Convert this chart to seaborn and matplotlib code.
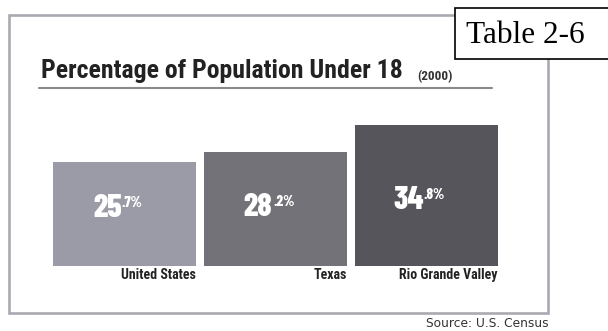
import matplotlib
matplotlib.use("Agg")
import matplotlib.pyplot as plt
import seaborn as sns
from matplotlib.patches import Rectangle
from matplotlib.lines import Line2D

# ---- data ----
categories = ["United States", "Texas", "Rio Grande Valley"]
values = [25.7, 28.2, 34.8]
whole_parts = ["25", "28", "34"]
frac_parts = [".7%", ".2%", ".8%"]
title = "Percentage of Population Under 18"
year_note = "(2000)"
table_label = "Table 2-6"
source = "Source: U.S. Census"

# ---- style ----
bar_colors = ["#9A9BA6", "#727278", "#55555B"]
label_base_offsets = [12.1, 12.35, 14.1]   # baseline of value text (data units)

W, H = 608, 331
sns.set_theme(style="white")
plt.rcParams['font.family'] = ['DejaVu Sans']
fig = plt.figure(figsize=(W / 100, H / 100), dpi=100)
fig.patch.set_facecolor("white")
ax = fig.add_axes([0, 0, 1, 1])

def fx(x):
    return x / W

def fy(y):
    return 1 - y / H

sns.barplot(x=categories, y=values, hue=categories, palette=bar_colors, width=0.947,
            saturation=1, legend=False, ax=ax, linewidth=0, zorder=3)

# pixel mapping: pos 0 centre at x=124.5, 151 px per category; y=0 at 266 px, 4.05 px/unit
ppx, ppy = 151.0, 4.05
ax.set_xlim(-124.5 / ppx, (W - 124.5) / ppx)
ax.set_ylim(-(H - 266) / ppy, 266 / ppy)
ax.axis("off")

cond = ["Roboto Condensed", "DejaVu Sans"]
numfont = ["Barlow Condensed", "Roboto Condensed", "DejaVu Sans"]
for i, (v, w, f) in enumerate(zip(values, whole_parts, frac_parts)):
    jx = i - 3 / ppx
    yb = label_base_offsets[i]
    ax.text(jx, yb, w, ha="right", va="baseline", color="white",
            fontsize=23, fontweight=800, family=numfont, zorder=5)
    ax.text(jx + 0.5 / ppx, yb + 10 / ppy, f, ha="left", va="baseline", color="white",
            fontsize=10.5, fontweight=800, family=numfont, zorder=5)
    ax.text(i + 0.947 / 2, -2 / ppy, categories[i], ha="right", va="top",
            color="#222222", fontsize=10, fontweight="bold", family=cond, zorder=5)

# outer frame
frame = Rectangle((fx(8.5), fy(312.5)), fx(548 - 8.5), (312.5 - 15) / H,
                  transform=fig.transFigure, fill=False, edgecolor="#A9A9B2",
                  linewidth=1.9, zorder=1)
fig.patches.append(frame)

# title + underline
fig.text(fx(41), fy(78), title, ha="left", va="baseline", color="#222222",
         fontsize=18.5, fontweight="bold", family=cond)
fig.text(fx(417), fy(80), year_note, ha="left", va="baseline", color="#333333",
         fontsize=9.5, fontweight="bold", family=cond)
fig.lines.append(Line2D([fx(39), fx(492)], [fy(88), fy(88)], transform=fig.transFigure,
                        color="#8A8A8A", linewidth=1.5))

# table box (runs off the right edge)
box = Rectangle((fx(455), fy(59)), 0.6, (59 - 8) / H,
                transform=fig.transFigure, facecolor="white", edgecolor="black",
                linewidth=1.2, zorder=10, clip_on=False)
fig.patches.append(box)
fig.text(fx(525), fy(43), table_label, ha="center", va="baseline", color="black",
         fontsize=22.5, family="Liberation Serif", zorder=11)

# source
fig.text(fx(549), fy(327), source, ha="right", va="baseline", color="#333333",
         fontsize=8.8, family="DejaVu Sans")

fig.savefig("out.png", dpi=100, facecolor="white")
